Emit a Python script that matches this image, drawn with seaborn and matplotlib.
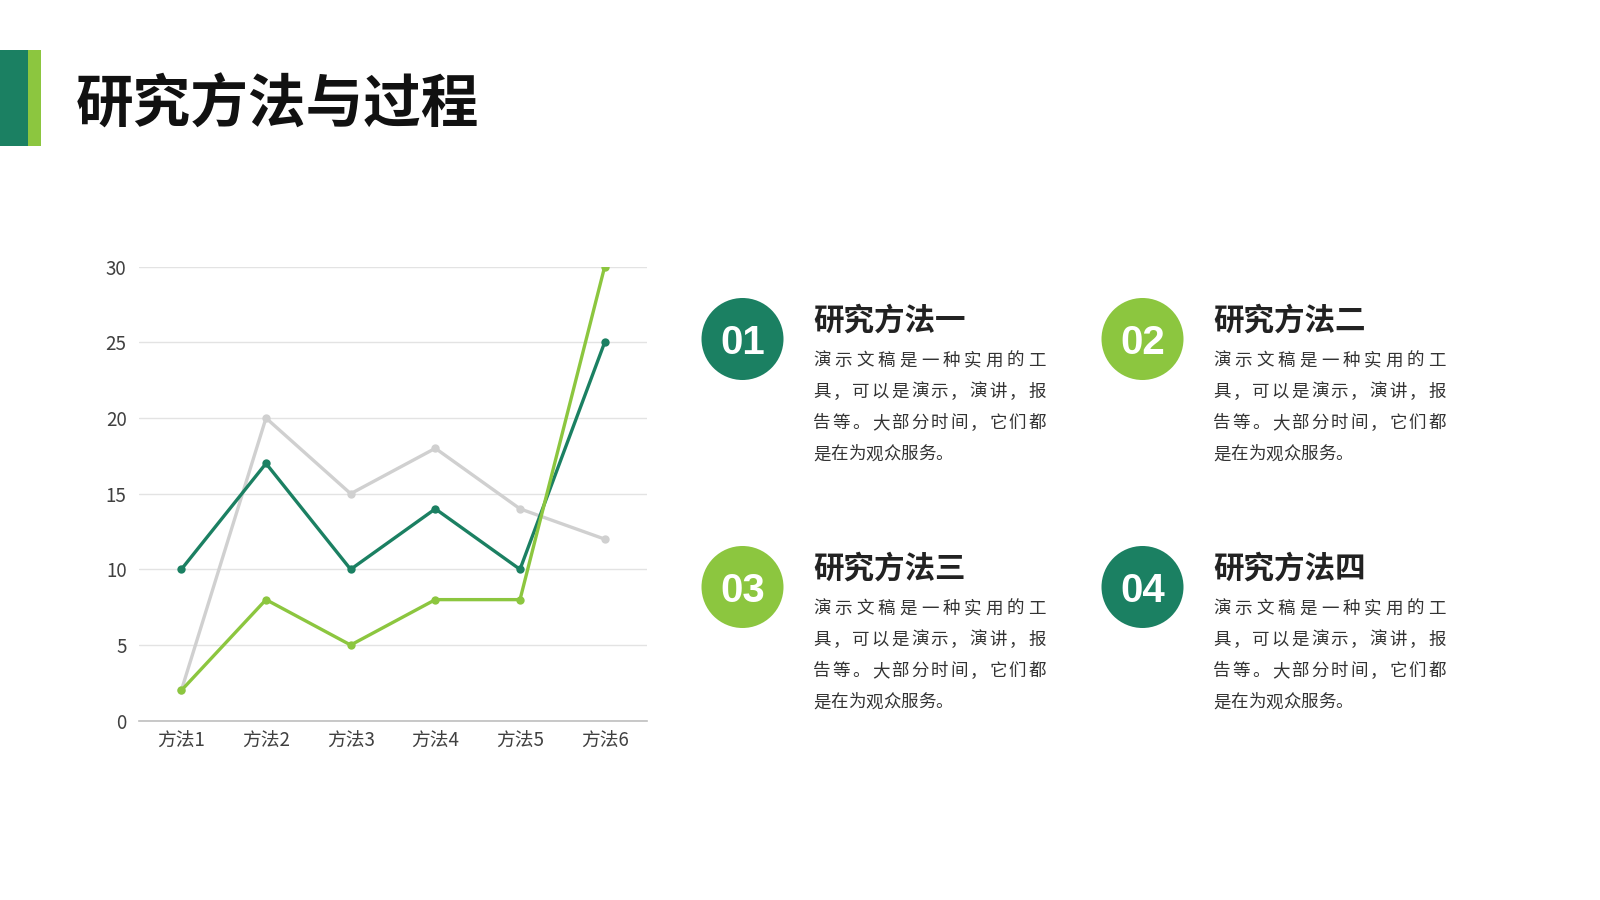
import matplotlib
matplotlib.use("Agg")
import matplotlib.pyplot as plt
from matplotlib.patches import Rectangle, Circle
import pandas as pd
import seaborn as sns

# === data ===
CATEGORIES = ["方法1", "方法2", "方法3", "方法4", "方法5", "方法6"]
SERIES_NAMES = ["系列1", "系列2", "系列3"]
SERIES_1 = [2, 20, 15, 18, 14, 12]
SERIES_2 = [10, 17, 10, 14, 10, 25]
SERIES_3 = [2, 8, 5, 8, 8, 30]
Y_TICKS = [0, 5, 10, 15, 20, 25, 30]

TITLE = "研究方法与过程"
CARD_NUMBERS = ["01", "02", "03", "04"]
CARD_TITLES = ["研究方法一", "研究方法二", "研究方法三", "研究方法四"]
CARD_LINES = ["演示文稿是一种实用的工", "具，可以是演示，演讲，报", "告等。大部分时间，它们都", "是在为观众服务。"]

# === style ===
DARK_GREEN = "#1B8062"
LIGHT_GREEN = "#8CC63F"
GRAY = "#D0D0D0"
PALETTE = {SERIES_NAMES[0]: GRAY, SERIES_NAMES[1]: DARK_GREEN, SERIES_NAMES[2]: LIGHT_GREEN}
CIRCLE_COLORS = [DARK_GREEN, LIGHT_GREEN, LIGHT_GREEN, DARK_GREEN]
W, H = 1600, 900

sns.set_theme(style="white")
plt.rcParams["font.family"] = ["Noto Sans CJK SC", "DejaVu Sans"]

fig = plt.figure(figsize=(16, 9), dpi=100)

# background layer in pixel coordinates (top-down)
bg = fig.add_axes([0, 0, 1, 1])
bg.set_xlim(0, W)
bg.set_ylim(H, 0)
bg.axis("off")

# title block
bg.add_patch(Rectangle((0, 50), 28, 96, color=DARK_GREEN, lw=0))
bg.add_patch(Rectangle((28, 50), 13, 96, color=LIGHT_GREEN, lw=0))
bg.text(76, 101 + 0.38 * 58, TITLE, fontsize=41.5, fontweight="heavy", color="#111111",
        ha="left", va="baseline")

# cards
BODY_PX = 17.5
LINE_W = 233
for i in range(4):
    col, row = i % 2, i // 2
    cx = 742.5 + col * 400
    cy = 339 + row * 248
    bg.add_patch(Circle((cx, cy), 41, color=CIRCLE_COLORS[i], lw=0))
    bg.text(cx, cy + 15, CARD_NUMBERS[i], fontsize=29, fontweight="bold",
            family=["Liberation Sans", "DejaVu Sans"],
            color="white", ha="center", va="baseline")
    tx = cx + 70.5
    bg.text(tx, cy - 21 + 0.38 * 30.8, CARD_TITLES[i], fontsize=22, fontweight="bold",
            color="#222222", ha="left", va="baseline")
    for j, line in enumerate(CARD_LINES):
        ly = cy + 20 + j * 31.2
        n = len(line)
        if j < len(CARD_LINES) - 1:
            pitch = (LINE_W - BODY_PX) / (n - 1)
        else:
            pitch = BODY_PX
        for k, ch in enumerate(line):
            bg.text(tx + k * pitch, ly + 0.38 * BODY_PX, ch, fontsize=12.6, color="#333333",
                    ha="left", va="baseline")

# chart
df = pd.DataFrame({
    "method": CATEGORIES * 3,
    "value": SERIES_1 + SERIES_2 + SERIES_3,
    "series": [SERIES_NAMES[0]] * 6 + [SERIES_NAMES[1]] * 6 + [SERIES_NAMES[2]] * 6,
})

ax = fig.add_axes([139 / W, 1 - 720.7 / H, 508 / W, 454 / H])
ax.set_facecolor("none")
sns.lineplot(data=df, x="method", y="value", hue="series", hue_order=SERIES_NAMES,
             palette=PALETTE, sort=False, marker="o", markersize=6, markeredgewidth=0,
             linewidth=2.4, legend=False, ax=ax)
ax.set_xlim(-0.5, 5.5)
ax.set_ylim(0, 30)
ax.set_yticks(Y_TICKS)
ax.yaxis.grid(True, color="#E3E3E3", linewidth=1)
ax.xaxis.grid(False)
ax.set_axisbelow(True)
for s in ["top", "right", "left"]:
    ax.spines[s].set_visible(False)
ax.spines["bottom"].set_color("#BFBFBF")
ax.spines["bottom"].set_linewidth(1.2)
ax.tick_params(axis="y", length=0, pad=9, labelsize=13.5, labelcolor="#404040")
ax.tick_params(axis="x", length=0, pad=7, labelsize=13.5, labelcolor="#404040")
ax.set_xlabel("")
ax.set_ylabel("")

fig.savefig("out.png", dpi=100, facecolor="white")
